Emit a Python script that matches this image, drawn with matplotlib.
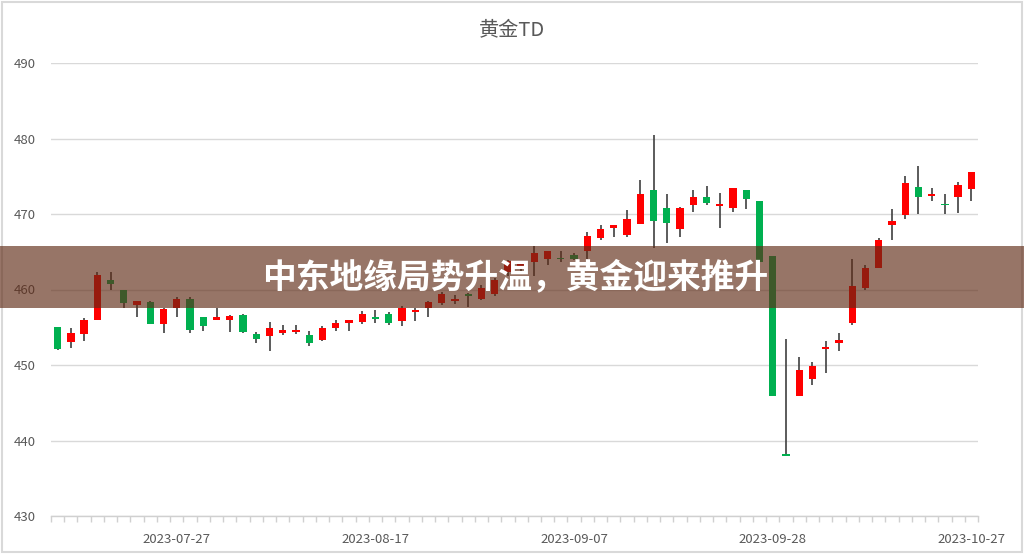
import matplotlib
matplotlib.use("Agg")
import matplotlib.pyplot as plt
from matplotlib.patches import Rectangle
import numpy as np

plt.rcParams['font.family'] = ['Noto Sans CJK SC', 'DejaVu Sans']

title = "黄金TD"
banner = "中东地缘局势升温，黄金迎来推升"

opens = [455.0, 453.0, 454.1, 456.0, 461.3, 460.0, 457.9, 458.4, 455.4, 457.5,
         458.7, 456.3, 455.9, 456.0, 456.6, 454.1, 453.8, 454.3, 454.4, 454.0,
         453.3, 454.9, 455.5, 455.7, 456.3, 456.8, 455.8, 457.0, 457.5, 458.2,
         458.5, 459.4, 458.8, 459.4, 462.3, 462.9, 463.7, 464.0, 464.2, 464.6,
         465.1, 466.8, 468.2, 467.2, 468.7, 473.2, 470.8, 468.0, 471.2, 472.3,
         471.1, 470.8, 473.2, 471.7, 464.4, 438.1, 445.9, 448.1, 452.1, 452.9,
         455.5, 460.2, 462.9, 468.5, 469.9, 473.6, 472.4, 471.3, 472.2, 473.3]
highs = [455.0, 454.9, 456.2, 462.3, 462.3, 460.0, 458.5, 458.5, 457.5, 459.0,
         459.0, 456.3, 457.6, 456.6, 456.7, 454.4, 455.7, 455.3, 455.3, 454.5,
         455.1, 456.0, 456.0, 457.2, 457.3, 457.0, 457.8, 457.5, 458.5, 459.7,
         459.3, 459.5, 460.6, 461.5, 463.9, 463.6, 465.8, 465.1, 465.1, 464.9,
         467.6, 468.6, 468.6, 470.5, 474.5, 480.5, 472.6, 470.9, 473.2, 473.7,
         472.8, 473.5, 473.2, 471.7, 464.4, 453.4, 451.0, 450.4, 453.2, 454.3,
         464.1, 463.2, 466.8, 470.7, 475.0, 476.4, 473.4, 472.7, 474.2, 475.5]
lows = [452.0, 452.3, 453.2, 456.0, 459.9, 457.5, 456.4, 455.4, 454.2, 456.4,
        454.3, 454.5, 455.9, 454.4, 454.3, 452.9, 451.9, 454.0, 454.1, 452.5,
        453.2, 454.5, 454.5, 455.4, 455.6, 455.3, 455.2, 455.8, 456.4, 458.0,
        458.1, 457.7, 458.6, 459.2, 461.8, 462.0, 461.8, 463.2, 463.7, 463.9,
        464.1, 466.5, 466.9, 467.0, 468.7, 465.5, 466.2, 466.9, 470.2, 471.2,
        468.2, 470.2, 470.6, 463.7, 445.9, 437.9, 445.9, 447.4, 449.0, 451.8,
        455.3, 459.9, 462.8, 466.6, 469.3, 470.0, 471.7, 470.0, 470.1, 471.7]
closes = [452.1, 454.2, 456.0, 461.9, 460.7, 458.2, 458.5, 455.4, 457.4, 458.8,
          454.6, 455.2, 456.4, 456.5, 454.4, 453.4, 454.9, 454.7, 454.7, 452.9,
          454.9, 455.5, 456.0, 456.8, 456.1, 455.6, 457.5, 457.3, 458.3, 459.4,
          458.8, 459.1, 460.2, 461.2, 463.8, 463.4, 464.9, 465.1, 464.0, 464.1,
          467.1, 468.0, 468.5, 469.4, 472.6, 469.1, 468.8, 470.8, 472.3, 471.5,
          471.3, 473.5, 472.0, 463.7, 445.9, 438.0, 449.3, 449.9, 452.4, 453.3,
          460.4, 462.9, 466.6, 469.1, 474.1, 472.2, 472.7, 471.2, 473.9, 475.5]

tick_idx = [9, 24, 39, 54, 69]
tick_labels = ["2023-07-27", "2023-08-17", "2023-09-07", "2023-09-28", "2023-10-27"]
y_ticks = [430, 440, 450, 460, 470, 480, 490]

W, H = 1024, 555
fig = plt.figure(figsize=(W / 100, H / 100), dpi=100)
left, right = 51 / W, 978 / W
bottom, top = (H - 516) / H, (H - 63) / H
ax = fig.add_axes([left, bottom, right - left, top - bottom])

n = len(opens)
x = np.arange(n)
o = np.array(opens); c = np.array(closes)
hi = np.array(highs); lo = np.array(lows)
up = c >= o
colors = np.where(up, "#FF0000", "#00B050")
body_bottom = np.minimum(o, c)
body_h = np.maximum(np.abs(c - o), 0.15)

ax.vlines(x, lo, hi, color="#404040", lw=1.2, zorder=2)
ax.bar(x, body_h, bottom=body_bottom, width=0.55, color=colors, zorder=3, linewidth=0)

ax.set_xlim(-0.5, n - 0.5)
ax.set_ylim(430, 490)
ax.set_yticks(y_ticks)
ax.set_yticklabels([str(v) for v in y_ticks])
ax.set_xticks(tick_idx)
ax.set_xticklabels(tick_labels)
ax.set_xticks(np.arange(-0.5, n, 1), minor=True)
ax.tick_params(axis='x', which='major', length=0, pad=12, labelsize=9.5, labelcolor="#595959")
ax.tick_params(axis='x', which='minor', length=4, color="#d0d0d0", width=1)
ax.tick_params(axis='y', length=0, pad=11, labelsize=9.5, labelcolor="#595959")
ax.grid(axis='y', color="#d9d9d9", lw=1, zorder=0)
ax.set_axisbelow(True)
for s in ["top", "right", "left"]:
    ax.spines[s].set_visible(False)
ax.spines["bottom"].set_color("#d0d0d0")
ax.spines["bottom"].set_linewidth(1)

fig.text(512 / W, 1 - 30 / H, title, ha="center", va="center", fontsize=14.5, color="#595959")

# banner overlay
fig.add_artist(Rectangle((0, (H - 308) / H), 1, 62 / H, transform=fig.transFigure,
                         facecolor="#602B16", alpha=0.65, edgecolor="none", zorder=5))
fig.text(515 / W, 1 - 277 / H, banner, ha="center", va="center", fontsize=24.3,
         fontweight="bold", color="white", zorder=6)

# outer border
fig.add_artist(Rectangle((2 / W, 3 / H), 1 - 4 / W, 1 - 5 / H, transform=fig.transFigure,
                         facecolor="none", edgecolor="#d9d9d9", lw=1.5, zorder=4))

fig.savefig("out.png", dpi=100)
